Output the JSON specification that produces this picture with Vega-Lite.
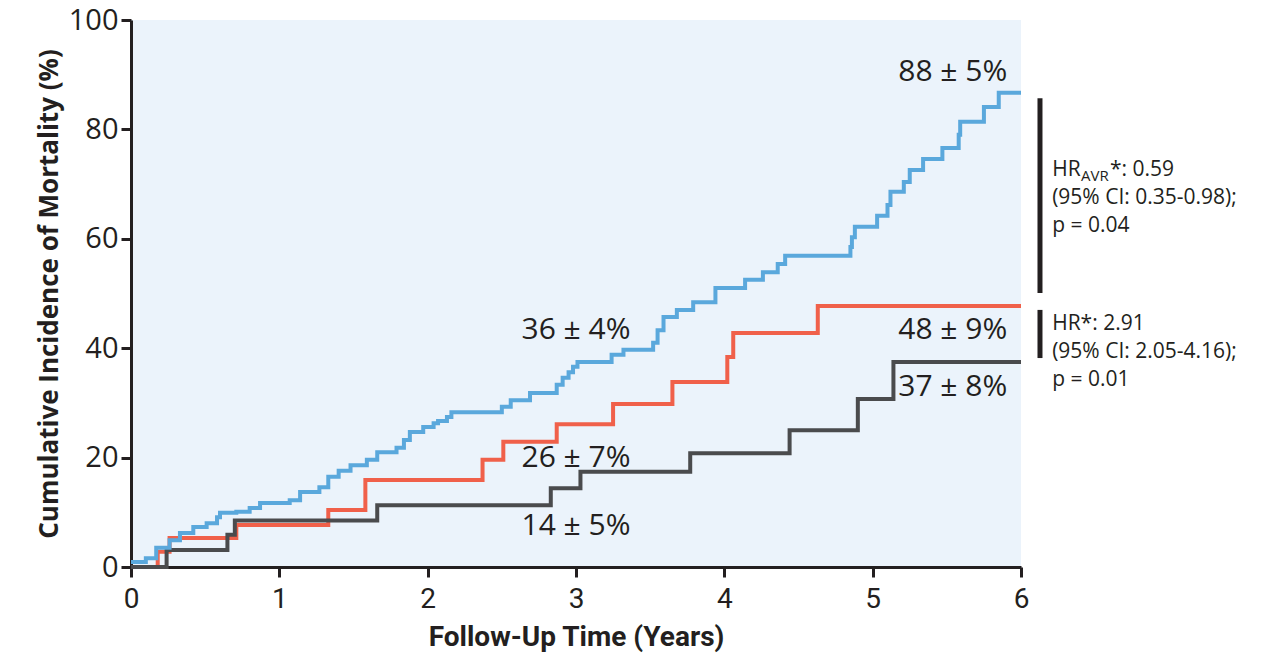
{
  "$schema": "https://vega.github.io/schema/vega-lite/v6.json",
  "width": 890,
  "height": 547,
  "autosize": "none",
  "padding": {"left": 131, "top": 20, "right": 252, "bottom": 94},
  "background": "white",
  "config": {"view": {"fill": "#ebf3fb", "stroke": null}, "font": "Roboto"},
  "datasets": {
    "curves": [
      {"g": "Red", "t": 0, "v": 0},
      {"g": "Red", "t": 0.18, "v": 2.8},
      {"g": "Red", "t": 0.26, "v": 5.3},
      {"g": "Red", "t": 0.71, "v": 7.7},
      {"g": "Red", "t": 1.33, "v": 10.4},
      {"g": "Red", "t": 1.58, "v": 15.9},
      {"g": "Red", "t": 2.37, "v": 19.6},
      {"g": "Red", "t": 2.51, "v": 22.9},
      {"g": "Red", "t": 2.87, "v": 26.1},
      {"g": "Red", "t": 3.25, "v": 29.8},
      {"g": "Red", "t": 3.65, "v": 33.8},
      {"g": "Red", "t": 4.02, "v": 38.4},
      {"g": "Red", "t": 4.06, "v": 42.8},
      {"g": "Red", "t": 4.63, "v": 47.7},
      {"g": "Red", "t": 6.0, "v": 47.7},
      {"g": "Gray", "t": 0, "v": 0},
      {"g": "Gray", "t": 0.24, "v": 3.1},
      {"g": "Gray", "t": 0.65, "v": 5.9},
      {"g": "Gray", "t": 0.70, "v": 8.5},
      {"g": "Gray", "t": 1.66, "v": 11.3},
      {"g": "Gray", "t": 2.83, "v": 14.4},
      {"g": "Gray", "t": 3.03, "v": 17.4},
      {"g": "Gray", "t": 3.77, "v": 20.8},
      {"g": "Gray", "t": 4.44, "v": 25.0},
      {"g": "Gray", "t": 4.90, "v": 30.7},
      {"g": "Gray", "t": 5.14, "v": 37.5},
      {"g": "Gray", "t": 6.0, "v": 37.5},
      {"g": "Blue", "t": 0, "v": 0.9},
      {"g": "Blue", "t": 0.10, "v": 1.6},
      {"g": "Blue", "t": 0.17, "v": 3.5},
      {"g": "Blue", "t": 0.26, "v": 4.9},
      {"g": "Blue", "t": 0.33, "v": 6.2},
      {"g": "Blue", "t": 0.42, "v": 7.3},
      {"g": "Blue", "t": 0.51, "v": 8.0},
      {"g": "Blue", "t": 0.58, "v": 9.1},
      {"g": "Blue", "t": 0.60, "v": 9.9},
      {"g": "Blue", "t": 0.71, "v": 10.1},
      {"g": "Blue", "t": 0.80, "v": 10.8},
      {"g": "Blue", "t": 0.87, "v": 11.7},
      {"g": "Blue", "t": 1.07, "v": 12.2},
      {"g": "Blue", "t": 1.14, "v": 13.7},
      {"g": "Blue", "t": 1.27, "v": 14.6},
      {"g": "Blue", "t": 1.33, "v": 16.5},
      {"g": "Blue", "t": 1.40, "v": 17.6},
      {"g": "Blue", "t": 1.48, "v": 18.6},
      {"g": "Blue", "t": 1.59, "v": 19.6},
      {"g": "Blue", "t": 1.66, "v": 21.0},
      {"g": "Blue", "t": 1.79, "v": 21.8},
      {"g": "Blue", "t": 1.84, "v": 23.2},
      {"g": "Blue", "t": 1.88, "v": 24.7},
      {"g": "Blue", "t": 1.97, "v": 25.6},
      {"g": "Blue", "t": 2.04, "v": 26.3},
      {"g": "Blue", "t": 2.07, "v": 26.7},
      {"g": "Blue", "t": 2.13, "v": 27.4},
      {"g": "Blue", "t": 2.16, "v": 28.3},
      {"g": "Blue", "t": 2.50, "v": 29.3},
      {"g": "Blue", "t": 2.56, "v": 30.5},
      {"g": "Blue", "t": 2.69, "v": 31.8},
      {"g": "Blue", "t": 2.87, "v": 33.3},
      {"g": "Blue", "t": 2.91, "v": 34.6},
      {"g": "Blue", "t": 2.95, "v": 35.6},
      {"g": "Blue", "t": 2.98, "v": 36.6},
      {"g": "Blue", "t": 3.01, "v": 37.5},
      {"g": "Blue", "t": 3.24, "v": 38.8},
      {"g": "Blue", "t": 3.32, "v": 39.7},
      {"g": "Blue", "t": 3.52, "v": 41.0},
      {"g": "Blue", "t": 3.55, "v": 43.3},
      {"g": "Blue", "t": 3.59, "v": 45.7},
      {"g": "Blue", "t": 3.68, "v": 47.0},
      {"g": "Blue", "t": 3.79, "v": 48.4},
      {"g": "Blue", "t": 3.94, "v": 51.0},
      {"g": "Blue", "t": 4.14, "v": 52.5},
      {"g": "Blue", "t": 4.26, "v": 53.9},
      {"g": "Blue", "t": 4.36, "v": 55.4},
      {"g": "Blue", "t": 4.41, "v": 56.9},
      {"g": "Blue", "t": 4.85, "v": 58.5},
      {"g": "Blue", "t": 4.86, "v": 60.3},
      {"g": "Blue", "t": 4.88, "v": 62.2},
      {"g": "Blue", "t": 5.03, "v": 64.2},
      {"g": "Blue", "t": 5.10, "v": 66.2},
      {"g": "Blue", "t": 5.12, "v": 68.6},
      {"g": "Blue", "t": 5.21, "v": 70.4},
      {"g": "Blue", "t": 5.25, "v": 72.6},
      {"g": "Blue", "t": 5.34, "v": 74.6},
      {"g": "Blue", "t": 5.47, "v": 76.6},
      {"g": "Blue", "t": 5.58, "v": 79.0},
      {"g": "Blue", "t": 5.59, "v": 81.4},
      {"g": "Blue", "t": 5.75, "v": 84.1},
      {"g": "Blue", "t": 5.85, "v": 86.7},
      {"g": "Blue", "t": 6.0, "v": 86.7}
    ],
    "labels": [
      {"t": 5.54, "v": 90.5, "label": "88 ± 5%"},
      {"t": 3.0, "v": 43.3, "label": "36 ± 4%"},
      {"t": 5.54, "v": 43.3, "label": "48 ± 9%"},
      {"t": 5.54, "v": 32.9, "label": "37 ± 8%"},
      {"t": 3.0, "v": 19.9, "label": "26 ± 7%"},
      {"t": 3.0, "v": 7.5, "label": "14 ± 5%"}
    ],
    "bars": [
      {"t": 6.128, "v": 85.7, "v2": 50.1},
      {"t": 6.128, "v": 47.0, "v2": 38.2}
    ],
    "notes": [
      {"t": 6.21, "v": 71.5, "label": "HR"},
      {"t": 6.6, "v": 71.5, "label": "*: 0.59"},
      {"t": 6.21, "v": 66.4, "label": "(95% CI: 0.35-0.98);"},
      {"t": 6.21, "v": 61.3, "label": "p = 0.04"},
      {"t": 6.21, "v": 43.3, "label": "HR*: 2.91"},
      {"t": 6.21, "v": 38.2, "label": "(95% CI: 2.05-4.16);"},
      {"t": 6.21, "v": 33.1, "label": "p = 0.01"}
    ],
    "subs": [
      {"t": 6.405, "v": 70.6, "label": "AVR"}
    ]
  },
  "layer": [
    {
      "data": {"name": "curves"},
      "transform": [{"filter": "datum.g === 'Red'"}],
      "mark": {"type": "line", "interpolate": "step-after", "strokeWidth": 4, "color": "#f0604a"},
      "encoding": {
        "x": {
          "field": "t", "type": "quantitative",
          "scale": {"domain": [0, 6], "nice": false, "zero": false},
          "axis": {
            "values": [0, 1, 2, 3, 4, 5, 6], "format": "d", "grid": false, "labelFlush": false,
            "title": "Follow-Up Time (Years)", "titleFont": "Roboto", "titleFontSize": 28, "titleFontWeight": "bold", "titleColor": "#231f20", "titlePadding": 10,
            "labelFont": "Roboto", "labelFontSize": 28, "labelColor": "#231f20", "labelPadding": 8,
            "domainColor": "#231f20", "domainWidth": 3, "tickColor": "#231f20", "tickWidth": 3, "tickSize": 10
          }
        },
        "y": {
          "field": "v", "type": "quantitative",
          "scale": {"domain": [0, 100], "nice": false},
          "axis": {
            "values": [0, 20, 40, 60, 80, 100], "grid": false,
            "title": "Cumulative Incidence of Mortality (%)", "titleFont": "Open Sans", "titleFontSize": 26, "titleFontWeight": "bold", "titleColor": "#231f20", "titlePadding": 6,
            "labelFont": "Open Sans", "labelFontSize": 29, "labelColor": "#231f20", "labelPadding": 3,
            "domainColor": "#231f20", "domainWidth": 3, "tickColor": "#231f20", "tickWidth": 3, "tickSize": 10
          }
        }
      }
    },
    {
      "data": {"name": "curves"},
      "transform": [{"filter": "datum.g === 'Gray'"}],
      "mark": {"type": "line", "interpolate": "step-after", "strokeWidth": 4, "color": "#4a4b4d"},
      "encoding": {
        "x": {"field": "t", "type": "quantitative"},
        "y": {"field": "v", "type": "quantitative"}
      }
    },
    {
      "data": {"name": "curves"},
      "transform": [{"filter": "datum.g === 'Blue'"}],
      "mark": {"type": "line", "interpolate": "step-after", "strokeWidth": 4, "color": "#5aa8dc"},
      "encoding": {
        "x": {"field": "t", "type": "quantitative"},
        "y": {"field": "v", "type": "quantitative"}
      }
    },
    {
      "data": {"name": "labels"},
      "mark": {"type": "text", "font": "Open Sans", "fontSize": 30, "color": "#231f20", "align": "center", "baseline": "middle"},
      "encoding": {
        "x": {"field": "t", "type": "quantitative"},
        "y": {"field": "v", "type": "quantitative"},
        "text": {"field": "label"}
      }
    },
    {
      "data": {"name": "bars"},
      "mark": {"type": "rule", "strokeWidth": 5, "color": "#231f20"},
      "encoding": {
        "x": {"field": "t", "type": "quantitative"},
        "y": {"field": "v", "type": "quantitative"},
        "y2": {"field": "v2"}
      }
    },
    {
      "data": {"name": "notes"},
      "mark": {"type": "text", "font": "Open Sans", "fontSize": 21, "color": "#231f20", "align": "left", "baseline": "alphabetic"},
      "encoding": {
        "x": {"field": "t", "type": "quantitative"},
        "y": {"field": "v", "type": "quantitative"},
        "text": {"field": "label"}
      }
    },
    {
      "data": {"name": "subs"},
      "mark": {"type": "text", "font": "Open Sans", "fontSize": 15, "color": "#231f20", "align": "left", "baseline": "alphabetic"},
      "encoding": {
        "x": {"field": "t", "type": "quantitative"},
        "y": {"field": "v", "type": "quantitative"},
        "text": {"field": "label"}
      }
    }
  ]
}
